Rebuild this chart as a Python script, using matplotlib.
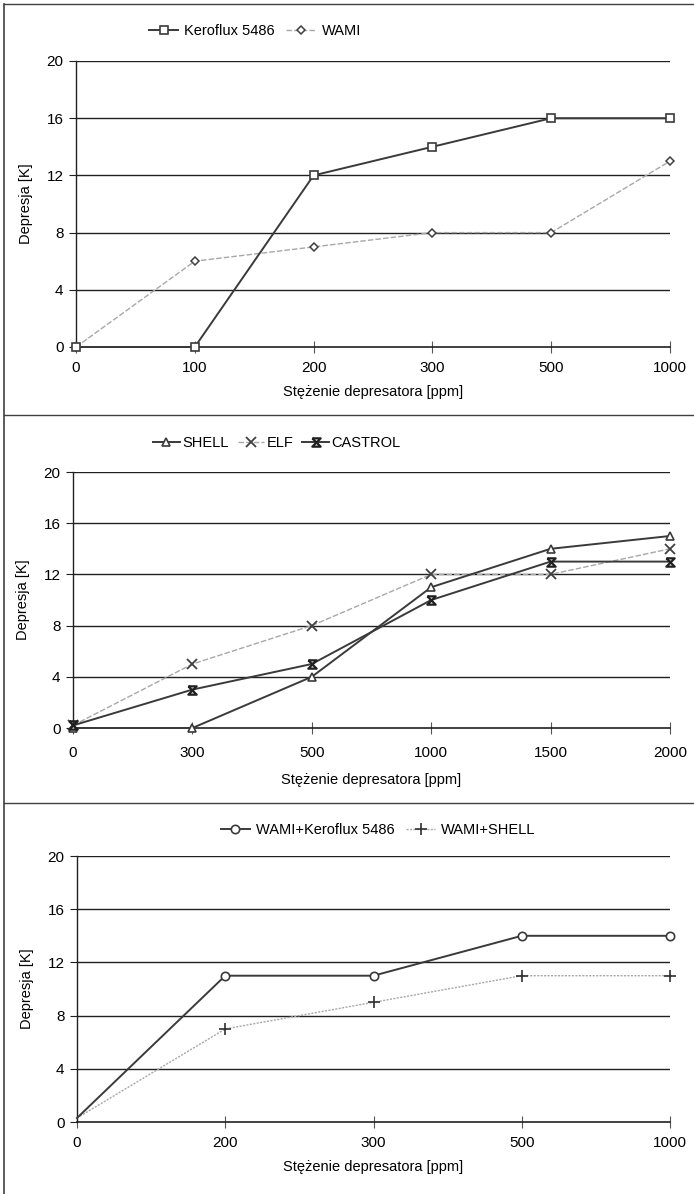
import matplotlib
matplotlib.use("Agg")
import matplotlib.pyplot as plt
from matplotlib.path import Path
from matplotlib.lines import Line2D

plt.rcParams['font.family'] = ['Liberation Sans', 'DejaVu Sans']

# ---- data ----
cats1 = ["0", "100", "200", "300", "500", "1000"]
keroflux = [0, 0, 12, 14, 16, 16]
wami = [0, 6, 7, 8, 8, 13]

cats2 = ["0", "300", "500", "1000", "1500", "2000"]
shell = [0, 0, 4, 11, 14, 15]
elf = [0.2, 5, 8, 12, 12, 14]
castrol = [0.2, 3, 5, 10, 13, 13]

cats3 = ["0", "200", "300", "500", "1000"]
wami_kero = [0.3, 11, 11, 14, 14]
wami_shell = [0.3, 7, 9, 11, 11]

yticks = [0, 4, 8, 12, 16, 20]
xlabel = "Stężenie depresatora [ppm]"
ylabel = "Depresja [K]"

W, H = 694, 1194
fig = plt.figure(figsize=(W / 100, H / 100), dpi=100)

hourglass = Path([(-1, 1), (1, 1), (-1, -1), (1, -1), (-1, 1)],
                 [Path.MOVETO, Path.LINETO, Path.LINETO, Path.LINETO, Path.LINETO])

DARK = "#3a3a3a"
LIGHT = "#a8a8a8"


def mk_axes(l, r, top, bot):
    return fig.add_axes([l / W, 1 - bot / H, (r - l) / W, (bot - top) / H])


def style(ax, cats, tickpad=6, labelpad=7):
    n = len(cats)
    ax.set_xlim(0, n - 1)
    ax.set_ylim(0, 20)
    ax.set_xticks(range(n))
    ax.set_xticklabels(cats)
    ax.set_yticks(yticks)
    for y in yticks[1:]:
        ax.axhline(y, color="#202020", lw=1.0, zorder=1)
    for s in ["top", "right"]:
        ax.spines[s].set_visible(False)
    ax.spines["left"].set_color("#202020")
    ax.spines["bottom"].set_color("#202020")
    ax.spines["left"].set_linewidth(1.0)
    ax.spines["bottom"].set_linewidth(1.2)
    ax.tick_params(axis="x", direction="inout", length=8, width=0.8,
                   color="#555555", labelsize=11, pad=tickpad)
    ax.tick_params(axis="y", direction="out", length=5, width=0.8,
                   color="#202020", labelsize=11, pad=4)
    ax.set_xlabel(xlabel, fontsize=10.5, labelpad=labelpad)
    ax.set_ylabel(ylabel, fontsize=10.5, labelpad=10)
    ax.set_facecolor("none")


# ---- panel 1 ----
ax1 = mk_axes(76, 670, 61, 347)
style(ax1, cats1)
x1 = range(len(cats1))
l1, = ax1.plot(x1, keroflux, color=DARK, lw=1.4, marker="s", ms=6,
               mfc="white", mec=DARK, mew=1.2, zorder=4, clip_on=False)
l2, = ax1.plot(x1, wami, color=LIGHT, lw=1.0, ls=(0, (4, 1.5)), marker="D", ms=4,
               mfc="white", mec="#404040", mew=1.1, zorder=3, clip_on=False)
fig.legend([l1, l2], ["Keroflux 5486", "WAMI"], loc="center",
           bbox_to_anchor=(255 / W, 1 - 31 / H), ncol=2, frameon=False,
           fontsize=10.5, handlelength=2.0, columnspacing=0.8, handletextpad=0.4)

# ---- panel 2 ----
ax2 = mk_axes(73, 670, 472, 728)
style(ax2, cats2, tickpad=9, labelpad=9)
x2 = range(len(cats2))
s1, = ax2.plot(x2, shell, color=DARK, lw=1.4, marker="^", ms=6,
               mfc="white", mec=DARK, mew=1.2, zorder=4, clip_on=False)
s2, = ax2.plot(x2, elf, color=LIGHT, lw=1.0, ls=(0, (4, 1.5)), marker="x", ms=7,
               mec="#404040", mew=1.3, zorder=3, clip_on=False)
s3, = ax2.plot(x2, castrol, color=DARK, lw=1.4, marker=hourglass, ms=6,
               mfc="none", mec="#202020", mew=1.6, zorder=5, clip_on=False)
fig.legend([s1, s2, s3], ["SHELL", "ELF", "CASTROL"], loc="center",
           bbox_to_anchor=(277 / W, 1 - 443 / H), ncol=3, frameon=False,
           fontsize=10.5, handlelength=1.8, columnspacing=0.6, handletextpad=0.2)

# ---- panel 3 ----
ax3 = mk_axes(77, 670, 856, 1122)
style(ax3, cats3)
x3 = range(len(cats3))
w1, = ax3.plot(x3, wami_kero, color=DARK, lw=1.4, marker="o", ms=6,
               mfc="white", mec=DARK, mew=1.2, zorder=4, clip_on=False,
               markevery=[1, 2, 3, 4])
w2, = ax3.plot(x3, wami_shell, color=LIGHT, lw=1.0, ls=(0, (1.5, 1)), marker="+", ms=8,
               mec="#303030", mew=1.2, zorder=3, clip_on=False,
               markevery=[1, 2, 3, 4])
fig.legend([w1, w2], ["WAMI+Keroflux 5486", "WAMI+SHELL"], loc="center",
           bbox_to_anchor=(378 / W, 1 - 830 / H), ncol=2, frameon=False,
           fontsize=10.5, handlelength=2.0, columnspacing=0.8, handletextpad=0.4)

# ---- frame lines ----
def fline(xs, ys, lw=1.0, c="#404040"):
    fig.add_artist(Line2D([x / W for x in xs], [1 - y / H for y in ys],
                          color=c, lw=lw, transform=fig.transFigure))

fline([4, 694], [4, 4])
fline([4, 4], [4, 1194], lw=1.2)
fline([4, 694], [415, 415])
fline([4, 694], [803, 803])

fig.savefig("out.png", dpi=100, facecolor="white")
